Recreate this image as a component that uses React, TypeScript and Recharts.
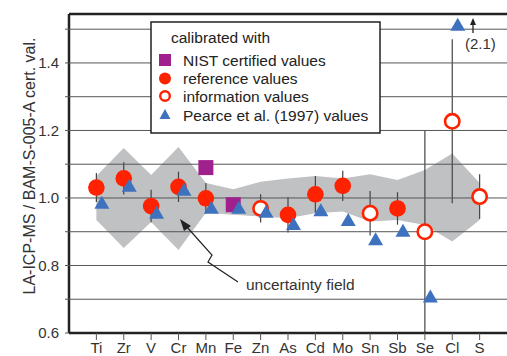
import React from 'react';
import {
  ComposedChart,
  Area,
  Scatter,
  ErrorBar,
  XAxis,
  YAxis,
  ReferenceLine,
} from 'recharts';

// Elements on the x axis
const ELEMENTS = ['Ti', 'Zr', 'V', 'Cr', 'Mn', 'Fe', 'Zn', 'As', 'Cd', 'Mo', 'Sn', 'Sb', 'Se', 'Cl', 'S'];

// calibrated with reference values (filled circles)
const REF_VALUES = [1.031, 1.058, 0.976, 1.033, 0.999, null, null, 0.95, 1.011, 1.036, null, 0.969, null, null, null];
const REF_ERR = [0.043, 0.048, 0.048, 0.045, 0.045, 0, 0, 0.052, 0.054, 0.045, 0, 0.048, 0, 0, 0];

// calibrated with information values (open circles)
const INFO_VALUES = [null, null, null, null, null, null, 0.969, null, null, null, 0.955, null, 0.9, 1.227, 1.004];
const INFO_ERR = [0, 0, 0, 0, 0, 0, 0.042, 0, 0, 0, 0.066, 0, 0.3, 0.243, 0.066];

// calibrated with NIST certified values (squares)
const NIST_VALUES = [null, null, null, null, 1.09, 0.98, null, null, null, null, null, null, null, null, null];

// Pearce et al. (1997) values (triangles), Cl is off scale (2.1)
const PEARCE_VALUES = [0.986, 1.036, 0.956, 1.024, 0.971, 0.971, 0.959, 0.923, 0.964, 0.935, 0.878, 0.903, 0.708, 2.1, null];

// uncertainty field
const BAND_LOW = [0.935, 0.852, 0.929, 0.846, 0.956, 0.95, 0.945, 0.94, 0.955, 0.96, 0.93, 0.935, 0.92, 0.871, 0.935];
const BAND_HIGH = [1.065, 1.148, 1.068, 1.151, 1.044, 1.026, 1.048, 1.058, 1.065, 1.058, 1.07, 1.053, 1.083, 1.132, 1.044];

// axes
const X_MIN = -1;
const X_MAX = 15;
const Y_MIN = 0.6;
const Y_MAX = 1.545;
const Y_TICKS = [0.6, 0.7, 0.8, 0.9, 1.0, 1.1, 1.2, 1.3, 1.4, 1.5];
const Y_LABELLED = [0.6, 0.8, 1.0, 1.2, 1.4];
const GRID_LINES = [0.7, 0.8, 0.9, 1.0, 1.1, 1.2, 1.3, 1.4, 1.5];
const CLIP = 1.513; // where off-scale points are drawn
const PEARCE_SHIFT = 0.2;

const RED = '#ff2200';
const PURPLE = '#a0208e';
const BLUE = '#3f72be';
const BAND = '#c0c1c3';
const GRID = '#555';
const FONT = '"Liberation Sans", Arial, sans-serif';

const bandData = ELEMENTS.map((name, i) => ({ x: i, name, band: [BAND_LOW[i], BAND_HIGH[i]] }));

const toPoints = (values: (number | null)[], errs: number[] | null, shift = 0) =>
  values
    .map((v, i) => (v == null ? null : { x: i + shift, y: Math.min(v, CLIP), err: errs ? errs[i] : 0 }))
    .filter(Boolean) as { x: number; y: number; err: number }[];

const refPoints = toPoints(REF_VALUES, REF_ERR);
const infoPoints = toPoints(INFO_VALUES, INFO_ERR);
const nistPoints = toPoints(NIST_VALUES, null);
const pearcePoints = toPoints(PEARCE_VALUES, null, PEARCE_SHIFT);

// gridlines drawn as series so they sit on top of the grey field
const gridSeries = GRID_LINES.map((v) => [
  { x: X_MIN, y: v },
  { x: X_MAX, y: v },
]);

const NoShape = () => <g />;
const FilledDot = (props: any) => <circle cx={props.cx} cy={props.cy} r={8.3} fill={RED} />;
const OpenDot = (props: any) => (
  <circle cx={props.cx} cy={props.cy} r={7.2} fill="#fff" stroke={RED} strokeWidth={2.6} />
);
const Square = (props: any) => <rect x={props.cx - 7.5} y={props.cy - 7.5} width={15} height={15} fill={PURPLE} />;
const Triangle = (props: any) => {
  const { cx, cy } = props;
  return <polygon points={`${cx},${cy - 7} ${cx + 7.5},${cy + 6} ${cx - 7.5},${cy + 6}`} fill={BLUE} />;
};

const yTickFormat = (v: number) => (Y_LABELLED.some((l) => Math.abs(l - v) < 1e-6) ? v.toFixed(1) : '');

const Legend = () => (
  <g fontFamily={FONT} fontSize={15.5} fill="#222">
    <rect x={151} y={22} width={229} height={111} fill="#fff" stroke="#222" strokeWidth={1.5} />
    <text x={171} y={43}>calibrated with</text>
    <rect x={159} y={54} width={12} height={12} fill={PURPLE} />
    <text x={183} y={65.5}>NIST certified values</text>
    <circle cx={165} cy={78.5} r={6} fill={RED} />
    <text x={183} y={84}>reference values</text>
    <circle cx={165} cy={96} r={4.8} fill="#fff" stroke={RED} strokeWidth={2.4} />
    <text x={183} y={101.5}>information values</text>
    <polygon points="165,109 170.5,119 159.5,119" fill={BLUE} />
    <text x={183} y={120.5}>Pearce et al. (1997) values</text>
  </g>
);

const Annotations = () => (
  <svg width={507} height={356} style={{ position: 'absolute', left: 0, top: 0, pointerEvents: 'none' }}>
    <text
      x={29}
      y={166}
      transform="rotate(-90 29 166)"
      textAnchor="middle"
      dominantBaseline="central"
      fontFamily={FONT}
      fontSize={16}
      fill="#333"
    >
      LA-ICP-MS / BAM-S-005-A cert. val.
    </text>
    <Legend />
    {/* off-scale arrow for Cl */}
    <line x1={473} y1={33} x2={473} y2={23} stroke="#222" strokeWidth={1.3} />
    <polygon points="473,18 476,25 470,25" fill="#222" />
    <text x={465} y={49} fontFamily={FONT} fontSize={15} fill="#333">
      (2.1)
    </text>
    {/* uncertainty field label */}
    <path d="M238,282 L208,262 L212,255 L186,226" fill="none" stroke="#222" strokeWidth={1.2} />
    <polygon points="180,219 191,226 184,231" fill="#222" />
    <text x={246} y={289.5} fontFamily={FONT} fontSize={15.5} fill="#333">
      uncertainty field
    </text>
  </svg>
);

export default function App() {
  return (
    <div style={{ position: 'absolute', left: 0, top: 0, width: 507, height: 356, background: '#fff' }}>
      <ComposedChart width={507} height={356} data={bandData} margin={{ top: 14, right: 0, bottom: 0, left: 0 }}>
        <XAxis
          dataKey="x"
          type="number"
          domain={[X_MIN, X_MAX]}
          ticks={ELEMENTS.map((_, i) => i)}
          tickFormatter={(i: number) => ELEMENTS[i] ?? ''}
          interval={0}
          height={23}
          tickSize={7}
          tickMargin={2}
          tickLine={{ stroke: GRID }}
          axisLine={{ stroke: '#222', strokeWidth: 2.5 }}
          tick={{ fill: '#333', fontSize: 15, fontFamily: FONT }}
        />
        <YAxis
          type="number"
          domain={[Y_MIN, Y_MAX]}
          allowDataOverflow
          ticks={Y_TICKS}
          tickFormatter={yTickFormat}
          interval={0}
          width={69}
          tickSize={4}
          tickMargin={6}
          tickLine={{ stroke: GRID }}
          axisLine={{ stroke: '#222', strokeWidth: 2.5 }}
          tick={{ fill: '#333', fontSize: 15, fontFamily: FONT }}
        />
        <Area
          dataKey="band"
          type="linear"
          fill={BAND}
          fillOpacity={1}
          stroke="none"
          dot={false}
          activeDot={false}
          isAnimationActive={false}
        />
        {gridSeries.map((pts, k) => (
          <Scatter
            key={`grid-${k}`}
            data={pts}
            dataKey="y"
            line={{ stroke: GRID, strokeWidth: 1 }}
            shape={NoShape}
            isAnimationActive={false}
          />
        ))}
        <ReferenceLine y={Y_MAX} stroke="#222" strokeWidth={2.5} />
        <Scatter data={infoPoints} dataKey="y" shape={OpenDot} isAnimationActive={false}>
          <ErrorBar dataKey="err" direction="y" width={0} stroke="#444" strokeWidth={1.2} />
        </Scatter>
        <Scatter data={refPoints} dataKey="y" shape={FilledDot} isAnimationActive={false}>
          <ErrorBar dataKey="err" direction="y" width={0} stroke="#444" strokeWidth={1.2} />
        </Scatter>
        <Scatter data={nistPoints} dataKey="y" shape={Square} isAnimationActive={false} />
        <Scatter data={pearcePoints} dataKey="y" shape={Triangle} isAnimationActive={false} />
      </ComposedChart>
      <Annotations />
    </div>
  );
}
